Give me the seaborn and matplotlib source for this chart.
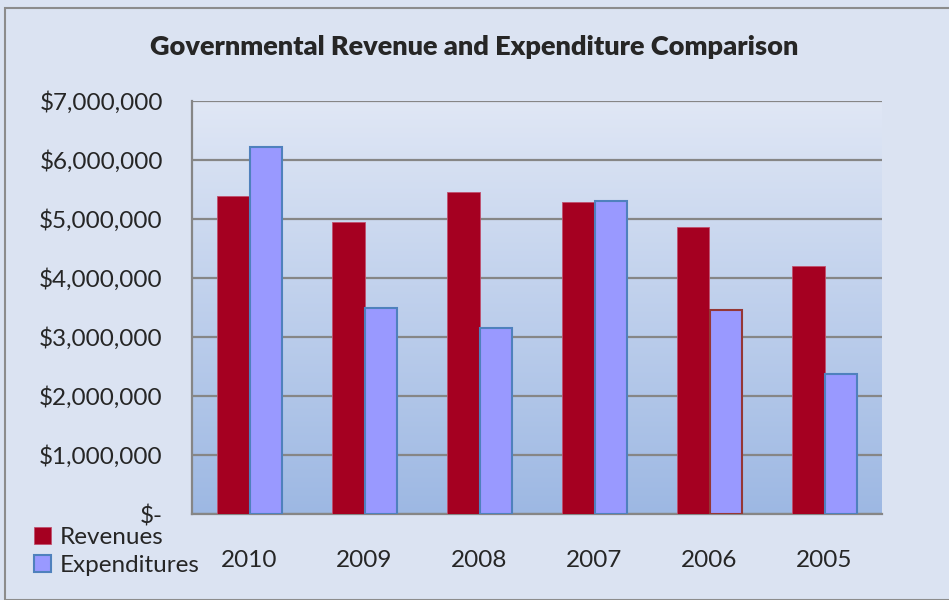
# Governmental Revenue and Expenditure Comparison - bar chart

import numpy as np
import pandas as pd
import matplotlib
matplotlib.use("Agg")
import matplotlib.pyplot as plt
from matplotlib.patches import Patch, Rectangle
from matplotlib.ticker import FuncFormatter, FixedLocator
import seaborn as sns

# data
years = ["2010", "2009", "2008", "2007", "2006", "2005"]
revenues = [5390000, 4950000, 5460000, 5280000, 4870000, 4200000]
expenditures = [6220000, 3490000, 3150000, 5310000, 3450000, 2370000]
series_names = ["Revenues", "Expenditures"]

df = pd.DataFrame({
    "year": years * 2,
    "series": [series_names[0]] * len(years) + [series_names[1]] * len(years),
    "amount": revenues + expenditures,
})

sns.set_style("white")
plt.rcParams["font.family"] = ["Lato", "DejaVu Sans"]

fig = plt.figure(figsize=(9.49, 6), dpi=100)
fig.patch.set_facecolor("#dbe3f2")
fig.patches.append(Rectangle((5 / 949, 0), 1, 1 - 8 / 600, transform=fig.transFigure,
                             fill=False, edgecolor="#8c8c8c", lw=1.5))

ax = fig.add_axes([192 / 949, 86 / 600, 690 / 949, 413 / 600])

# plot area gradient
grad = np.linspace(0, 1, 256).reshape(-1, 1)
cmap = matplotlib.colors.LinearSegmentedColormap.from_list("bg", ["#e0e7f5", "#9db8e3"])
ax.imshow(grad, extent=[0, 1, 0, 1], transform=ax.transAxes, aspect="auto",
          cmap=cmap, zorder=0)

palette = {"Revenues": "#a50021", "Expenditures": "#9999ff"}
sns.barplot(data=df, x="year", y="amount", hue="series", palette=palette,
            width=0.57, gap=0, saturation=1, ax=ax, zorder=3, legend=False)

# bar edges
for i, p in enumerate(ax.patches):
    if i < len(years):
        p.set_edgecolor("#c0506e")
        p.set_linewidth(0.6)
    else:
        p.set_edgecolor("#953735" if i - len(years) == 4 else "#4f81bd")
        p.set_linewidth(1.5)

ax.set_xlim(-0.5, len(years) - 0.5)
ax.set_ylim(0, 7000000)
ax.set_yticks(range(0, 7000001, 1000000))
ax.yaxis.set_major_formatter(FuncFormatter(lambda v, pos: f"${v:,.0f}" if v else "$-"))
ax.yaxis.grid(True, color="#868686", lw=1.6, zorder=1)
ax.set_axisbelow(True)

ax.xaxis.set_minor_locator(FixedLocator(np.arange(-0.5, len(years), 1)))
ax.tick_params(axis="x", which="major", length=0, pad=26, labelsize=17.5)
ax.tick_params(axis="x", which="minor", length=6, width=1.5, color="#868686")
ax.tick_params(axis="y", length=8, width=1.5, color="#868686", pad=13, labelsize=17.5)
ax.set_xlabel("")
ax.set_ylabel("")

for side in ["top", "right"]:
    ax.spines[side].set_visible(False)
for side in ["left", "bottom"]:
    ax.spines[side].set_color("#868686")
    ax.spines[side].set_linewidth(1.6)

fig.text(0.5, 1 - 47 / 600, "Governmental Revenue and Expenditure Comparison",
         ha="center", va="center", fontsize=19.5, fontweight="heavy")

handles = [Patch(facecolor=palette["Revenues"], edgecolor="#c0506e", lw=0.6),
           Patch(facecolor=palette["Expenditures"], edgecolor="#4f81bd", lw=1.5)]
fig.legend(handles, series_names, loc="upper left", bbox_to_anchor=(22 / 949, 1 - 515 / 600),
           frameon=False, fontsize=17.5, handlelength=0.7, handleheight=0.7,
           handletextpad=0.35, labelspacing=0.3, borderpad=0)

plt.savefig("out.png", dpi=100, facecolor=fig.get_facecolor())
plt.close()
